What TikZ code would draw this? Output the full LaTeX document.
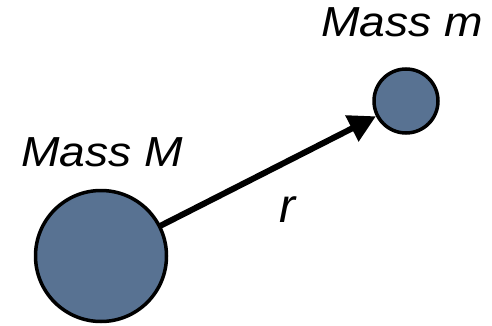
\documentclass[tikz,border=0pt]{standalone}
\usepackage{fontspec}
\setmainfont{Liberation Sans}
\usetikzlibrary{arrows.meta}
\definecolor{massblue}{RGB}{88,114,146}
\begin{document}
\begin{tikzpicture}[x=1pt, y=-1pt, font=\fontsize{42}{42}\selectfont\itshape]
      \tikzset{mass/.style={circle, draw, line width=3.5pt, fill=massblue, inner sep=0pt}}
      \useasboundingbox (0,0) rectangle (492,326);
      \node[mass, minimum size=131pt] (bigM) at (101,256) {};
      \node[mass, minimum size=64pt] (smallm) at (406,101) {};
      \node[anchor=base, xscale=1.1] (labelM) at (102,166) {Mass M};
      \node[anchor=base, xscale=1.1] (labelm) at (402,37) {Mass m};
      \node[anchor=base, font=\fontsize{48}{48}\selectfont\itshape] (labelr) at (287,222) {r};
      \draw[line width=6pt, -{Triangle[length=27pt, width=28pt]}, shorten <=-1pt] (bigM) -- (smallm);
    \end{tikzpicture}
\end{document}
